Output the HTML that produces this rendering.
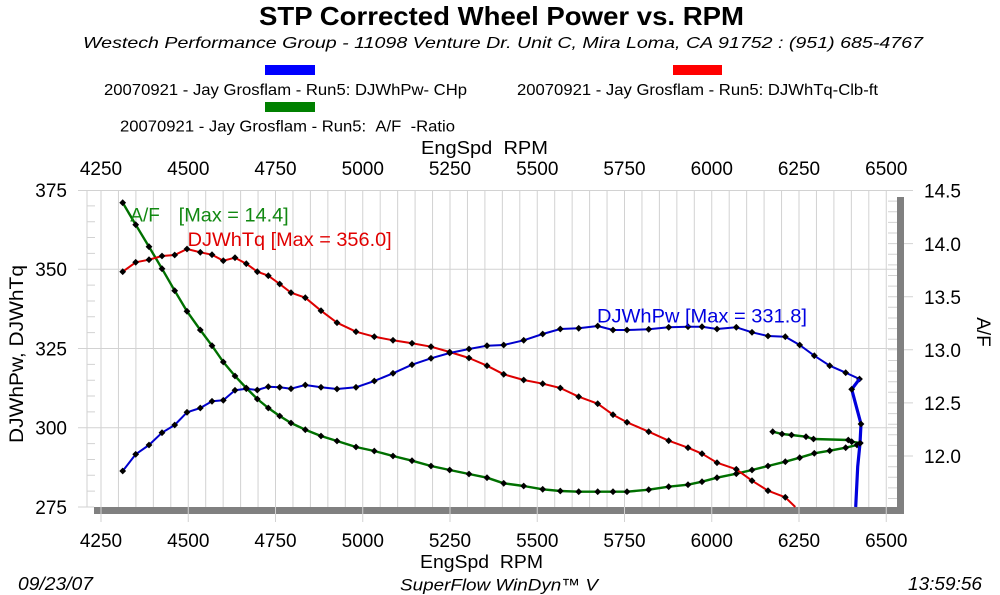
<!DOCTYPE html>
<html><head><meta charset="utf-8"><style>
html,body{margin:0;padding:0;background:#fff;}
svg{display:block;font-family:"Liberation Sans",Arial,sans-serif;}
</style></head><body>
<svg width="1000" height="595" viewBox="0 0 1000 595" xmlns="http://www.w3.org/2000/svg">
<defs>
<marker id="m" markerUnits="userSpaceOnUse" markerWidth="8" markerHeight="8" refX="4" refY="4" overflow="visible"><path d="M4,0.6 L7.4,4 L4,7.4 L0.6,4Z" fill="#000"/></marker>
<path id="dm" d="M0,-3.4 L3.4,0 L0,3.4 L-3.4,0Z" fill="#000"/>
</defs>
<rect width="1000" height="595" fill="#fff"/>

<!-- titles -->
<text x="501.5" y="25" text-anchor="middle" font-size="26" font-weight="bold" textLength="485" lengthAdjust="spacingAndGlyphs">STP Corrected Wheel Power vs. RPM</text>
<text x="503" y="48" text-anchor="middle" font-size="16" font-style="italic" textLength="840" lengthAdjust="spacingAndGlyphs">Westech Performance Group - 11098 Venture Dr. Unit C, Mira Loma, CA 91752  : (951) 685-4767</text>

<!-- legend -->
<rect x="265" y="65" width="50" height="10" fill="#0000ff"/>
<rect x="673" y="65" width="49" height="10" fill="#ff0000"/>
<rect x="265" y="102" width="50" height="10" fill="#008000"/>
<text x="104" y="95" font-size="16" textLength="363" lengthAdjust="spacingAndGlyphs">20070921 - Jay Grosflam - Run5: DJWhPw- CHp</text>
<text x="517" y="95" font-size="16" textLength="361" lengthAdjust="spacingAndGlyphs">20070921 - Jay Grosflam - Run5: DJWhTq-Clb-ft</text>
<text x="120" y="131.5" font-size="16" textLength="335" lengthAdjust="spacingAndGlyphs">20070921 - Jay Grosflam - Run5: &#160;A/F &#160;-Ratio</text>

<text x="421" y="154" font-size="18" textLength="127" lengthAdjust="spacingAndGlyphs">EngSpd &#160;RPM</text>

<!-- top tick labels -->
<g font-size="19" text-anchor="middle">
<text x="101" y="175">4250</text><text x="188.3" y="175">4500</text><text x="275.5" y="175">4750</text><text x="362.8" y="175">5000</text><text x="450" y="175">5250</text><text x="537.3" y="175">5500</text><text x="624.5" y="175">5750</text><text x="711.8" y="175">6000</text><text x="799" y="175">6250</text><text x="886.3" y="175">6500</text>
</g>
<!-- bottom tick labels -->
<g font-size="19" text-anchor="middle">
<text x="101" y="547">4250</text><text x="188.3" y="547">4500</text><text x="275.5" y="547">4750</text><text x="362.8" y="547">5000</text><text x="450" y="547">5250</text><text x="537.3" y="547">5500</text><text x="624.5" y="547">5750</text><text x="711.8" y="547">6000</text><text x="799" y="547">6250</text><text x="886.3" y="547">6500</text>
</g>
<text x="420" y="568" font-size="18" textLength="123" lengthAdjust="spacingAndGlyphs">EngSpd &#160;RPM</text>

<!-- left labels -->
<g font-size="19" text-anchor="end">
<text x="67" y="196.8">375</text><text x="67" y="276">350</text><text x="67" y="355.3">325</text><text x="67" y="434.5">300</text><text x="67" y="513.8">275</text>
</g>
<!-- right labels -->
<g font-size="19">
<text x="924" y="197.5">14.5</text><text x="924" y="250.8">14.0</text><text x="924" y="304">13.5</text><text x="924" y="356.8">13.0</text><text x="924" y="410">12.5</text><text x="924" y="462.8">12.0</text>
</g>
<text transform="translate(23,354) rotate(-90)" text-anchor="middle" font-size="19" textLength="178" lengthAdjust="spacingAndGlyphs">DJWhPw, DJWhTq</text>
<text transform="translate(977,332) rotate(90)" text-anchor="middle" font-size="19">A/F</text>

<!-- footer -->
<text x="18" y="590" font-size="18" font-style="italic" textLength="75" lengthAdjust="spacingAndGlyphs">09/23/07</text>
<text x="400" y="590.5" font-size="17" font-style="italic" textLength="198" lengthAdjust="spacingAndGlyphs">SuperFlow WinDyn™ V</text>
<text x="908" y="590" font-size="18" font-style="italic" textLength="74" lengthAdjust="spacingAndGlyphs">13:59:56</text>

<!-- grid -->
<g stroke="#d2d2d2" stroke-width="1" fill="none">
<path d="M87,190V507 M101,190V507 M118.45,190V507 M135.9,190V507 M153.35,190V507 M170.8,190V507 M188.25,190V507 M205.7,190V507 M223.15,190V507 M240.6,190V507 M258.05,190V507 M275.5,190V507 M292.95,190V507 M310.4,190V507 M327.85,190V507 M345.3,190V507 M362.75,190V507 M380.2,190V507 M397.65,190V507 M415.1,190V507 M432.55,190V507 M450,190V507 M467.45,190V507 M484.9,190V507 M502.35,190V507 M519.8,190V507 M537.25,190V507 M554.7,190V507 M572.15,190V507 M589.6,190V507 M607.05,190V507 M624.5,190V507 M641.95,190V507 M659.4,190V507 M676.85,190V507 M694.3,190V507 M711.75,190V507 M729.2,190V507 M746.65,190V507 M764.1,190V507 M781.55,190V507 M799,190V507 M816.45,190V507 M833.9,190V507 M851.35,190V507 M868.8,190V507 M886.25,190V507"/>
<path d="M78,190.5H913 M78,269.25H897 M78,348.5H897 M78,427.75H897 M78,507H94"/>
<!-- left minor ticks -->
<path d="M87,205.85H95 M87,221.7H95 M87,237.55H95 M87,253.4H95 M87,285.1H95 M87,300.95H95 M87,316.8H95 M87,332.65H95 M87,364.35H95 M87,380.2H95 M87,396.05H95 M87,411.9H95 M87,443.6H95 M87,459.45H95 M87,475.3H95 M87,491.15H95"/>
<!-- right ticks -->
<path d="M888,201.1H897 M888,211.7H897 M888,222.4H897 M888,233H897 M888,254.2H897 M888,264.9H897 M888,275.5H897 M888,286.1H897 M888,307.3H897 M888,318H897 M888,328.6H897 M888,339.2H897 M888,360.5H897 M888,371.1H897 M888,381.7H897 M888,392.3H897 M888,413.6H897 M888,424.2H897 M888,434.8H897 M888,445.4H897 M888,466.7H897 M888,477.3H897 M888,487.9H897 M888,498.5H897"/>
<path d="M888,243.6H913 M888,296.7H913 M888,349.8H913 M888,402.9H913 M888,456H913"/>
</g>
<!-- shadow bars -->
<rect x="897" y="197" width="7" height="317" fill="#808080"/>
<rect x="94" y="507" width="810" height="7" fill="#808080"/>
<g stroke="#d2d2d2" stroke-width="1">
<path d="M101,507V522 M188.25,507V522 M275.5,507V522 M362.75,507V522 M450,507V522 M537.25,507V522 M624.5,507V522 M711.75,507V522 M799,507V522 M886.25,507V522"/>
</g>

<!-- series -->
<g fill="none" stroke-linejoin="round">
<path stroke="#007000" stroke-width="2.4" marker-start="url(#m)" marker-mid="url(#m)" marker-end="url(#m)" d="M122.7,202.7 L135.7,224.7 L149,246.7 L162,268.7 L174.7,290.7 L187,311.3 L200.3,330 L212,345.7 L223.3,362 L235,376 L246.3,388 L257.3,399 L268.3,408 L279.7,416 L291,423 L305.3,429.7 L321,436 L337,441 L356,447 L374.3,451 L393,456 L412,460.7 L431,466 L449.7,470 L469,474 L487,477.7 L503.7,483.3 L523.7,486 L542.7,489.3 L560.3,491 L578.7,491.7 L597.7,491.7 L613,491.7 L627,491.7 L648.7,489.7 L668.7,486.7 L688,484.7 L702,481.7 L717,477.7 L736.3,473.7 L752,470 L768,466 L785.3,461.7 L799.7,457.7 L814.3,453.3 L829.7,450.7 L845.7,447.7 L857,445 L860.3,443 L851.7,441.7 L848.3,440 L813.5,439 L806,436.7 L791.5,435 L782,434 L772.7,431.7"/>
<path stroke="#dd0000" stroke-width="2" marker-start="url(#m)" marker-mid="url(#m)" d="M122.7,271.7 L135.7,262.3 L149,259.7 L162,256 L174.7,255 L187,249 L200.3,252.3 L212,254.7 L223.3,260.7 L235,257.7 L246.3,263.7 L257.3,271.7 L268.3,275.7 L279.7,284 L291,292.7 L305.3,297.7 L321,310.7 L337,322.7 L356,331.7 L374.3,336.7 L393,340.3 L412,343.3 L431,346.7 L449.7,352 L469,358 L487,365.7 L503.7,374.3 L523.7,380 L542.7,383.7 L560.3,388 L578.7,396.7 L597.7,403.7 L613,414.7 L627,422.3 L648.7,431.7 L668.7,440.7 L688,447.7 L702,453.7 L717,462.7 L736.3,469.3 L752,480.7 L768,490.7 L785.3,497.3 L795.3,507"/>
<path stroke="#0000cc" stroke-width="2" marker-start="url(#m)" marker-mid="url(#m)" marker-end="url(#m)" d="M122.7,471 L135.7,454.3 L149,445 L162,432.7 L174.7,425 L187,412.3 L200.3,408 L212,401.3 L223.3,400.3 L235,390.3 L246.3,388.7 L257.3,390 L268.3,386.7 L279.7,387.3 L291,388.7 L305.3,385 L321,387.3 L337,389 L356,387.3 L374.3,381 L393,373.3 L412,364.7 L431,358.3 L449.7,353 L469,349 L487,345.7 L503.7,345 L523.7,340.3 L542.7,334 L560.3,329 L578.7,328.3 L597.7,326 L613,330 L627,330 L648.7,329.3 L668.7,327.3 L688,326.7 L702,326.7 L717,329 L736.3,327.3 L752,332.3 L768,336 L785.3,336.7 L799.7,345 L814.3,355.7 L829.7,365.7 L845.7,372.7 L859.5,379"/>
<path stroke="#0000dd" stroke-width="3.2" d="M859.5,379 L851.7,389.3 L861,424 L860,443.3 L857.7,466.7 L855.7,507"/>
</g>
<use href="#dm" x="851.7" y="389.3"/>
<use href="#dm" x="861" y="424"/>
<use href="#dm" x="860" y="443.3"/>

<!-- annotations -->
<text x="130.3" y="221.5" font-size="19" fill="#118811">A/F</text>
<text x="178.7" y="221.5" font-size="19" fill="#118811" textLength="110" lengthAdjust="spacingAndGlyphs">[Max = 14.4]</text>
<text x="187.7" y="246" font-size="19" fill="#e00000" textLength="204" lengthAdjust="spacingAndGlyphs">DJWhTq [Max = 356.0]</text>
<text x="597" y="322.5" font-size="19" fill="#0000e0" textLength="210" lengthAdjust="spacingAndGlyphs">DJWhPw [Max = 331.8]</text>
</svg>
</body></html>
